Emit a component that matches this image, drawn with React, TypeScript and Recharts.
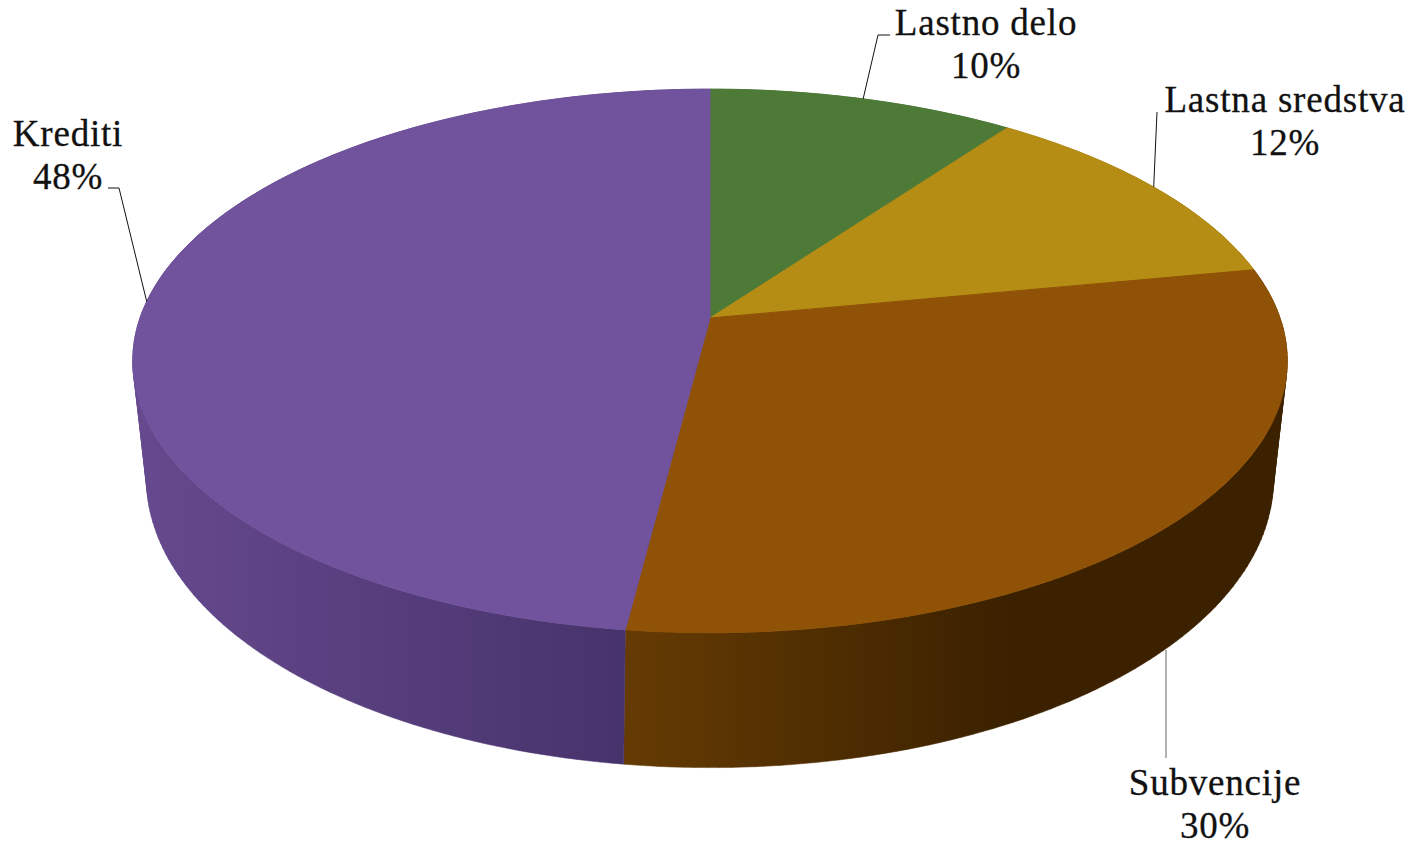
import { Pie, PieChart } from "recharts";

const names = ["Lastno delo", "Lastna sredstva", "Subvencije", "Krediti"];
const values = [10, 12, 30, 48];
const topColors = ["#4e7a38", "#b58c14", "#8f5206", "#70539c"];
const wallFrom = ["#4e7a38", "#b58c14", "#653b03", "#66498e"];
const wallTo = ["#3a5a28", "#86680f", "#3b2100", "#47336b"];

// text centre x, baselines and the leader's bends, same order as names
const labelX = [986, 1285, 1215, 68];
const labelY = [35, 112, 795, 146];
const elbows = [
  [[878, 35], [890, 35]],
  [[1157, 112]],
  [[1166, 650], [1166, 758]],
  [[119, 188], [108, 188]],
];

const data = names.map((name, i) => ({ name, value: values[i] }));

const CX = 710;
const CY = 318;
const RX = 570;
const SQUASH = 265 / 570;

// the top face and the lower rim of the disc, seen in perspective
const TOP_RING = { tilt: 0.158, scaleX: 1, scaleY: 1, drop: 0 };
const LOW_RING = { tilt: 0.2, scaleX: 552 / 570, scaleY: 276.5 / 265, drop: 104 };

type Ring = typeof TOP_RING;
type Pt = { x: number; y: number };

function project(cx: number, cy: number, r: number, deg: number, ring: Ring): Pt {
  const a = (deg * Math.PI) / 180;
  const u = Math.cos(a);
  const v = Math.sin(a);
  const w = 1 + ring.tilt * v;
  return {
    x: cx + (ring.scaleX * r * u) / w,
    y: cy + ring.drop - (ring.scaleY * r * SQUASH * v) / w,
  };
}

function arc(cx: number, cy: number, r: number, from: number, to: number, ring: Ring) {
  const steps = Math.max(2, Math.ceil(Math.abs(to - from)));
  const pts: Pt[] = [];
  for (let i = 0; i <= steps; i++) {
    pts.push(project(cx, cy, r, from + ((to - from) * i) / steps, ring));
  }
  return pts;
}

const toPath = (pts: Pt[]) =>
  "M" + pts.map((p) => `${p.x.toFixed(1)},${p.y.toFixed(1)}`).join("L") + "Z";

function area(pts: Pt[]) {
  let sum = 0;
  pts.forEach((p, i) => {
    const q = pts[(i + 1) % pts.length];
    sum += p.x * q.y - q.x * p.y;
  });
  return sum;
}

function TopSlice(props: any) {
  const { cx, cy, outerRadius, startAngle, endAngle, index } = props;
  const pts = [{ x: cx, y: cy }, ...arc(cx, cy, outerRadius, startAngle, endAngle, TOP_RING)];
  const fill = topColors[index];
  return <path d={toPath(pts)} fill={fill} stroke={fill} strokeWidth={1} />;
}

function WallSlice(props: any) {
  const { cx, cy, outerRadius, startAngle, endAngle, index } = props;
  const upper = arc(cx, cy, outerRadius, startAngle, endAngle, TOP_RING);
  const lower = arc(cx, cy, outerRadius, startAngle, endAngle, LOW_RING);
  // one quad per step, all wound the same way so the silhouette stays filled
  let d = "";
  for (let i = 0; i < upper.length - 1; i++) {
    const quad = [upper[i], upper[i + 1], lower[i + 1], lower[i]];
    d += toPath(area(quad) < 0 ? quad.reverse() : quad);
  }
  const id = `wall-${index}`;
  const purple = index === 3;
  return (
    <g>
      <defs>
        <linearGradient id={id} gradientUnits="userSpaceOnUse" x1={purple ? 133 : 625} x2={purple ? 625 : 1010} y1={0} y2={0}>
          <stop offset="0" stopColor={wallFrom[index]} />
          <stop offset="1" stopColor={wallTo[index]} />
        </linearGradient>
      </defs>
      <path d={d} fill={`url(#${id})`} stroke={`url(#${id})`} strokeWidth={0.5} />
    </g>
  );
}

function SliceLabel(props: any) {
  const { cx, cy, outerRadius, midAngle, index } = props;
  const bends = elbows[index].map(([x, y]) => ({ x, y }));
  // Subvencije leaves from the lower rim, its bends hold the whole line
  const line = index === 2 ? bends : [project(cx, cy, outerRadius, midAngle, TOP_RING), ...bends];
  return (
    <g>
      <polyline
        points={line.map((p) => `${p.x},${p.y}`).join(" ")}
        fill="none"
        stroke={index === 2 ? "#666666" : "#111111"}
        strokeWidth={1}
      />
      <text
        textAnchor="middle"
        fontFamily="Liberation Serif"
        fontSize={37}
        fill="#111111"
        stroke="#111111"
        strokeWidth={0.3}
        style={{ letterSpacing: "0.8px" }}
      >
        <tspan x={labelX[index]} y={labelY[index]}>{names[index]}</tspan>
        <tspan x={labelX[index]} y={labelY[index] + 43}>{`${values[index]}%`}</tspan>
      </text>
    </g>
  );
}

export default function App() {
  return (
    <div style={{ position: "absolute", left: 0, top: 0, width: 1418, height: 843, background: "#ffffff" }}>
      <PieChart width={1418} height={843} margin={{ top: 0, right: 0, bottom: 0, left: 0 }}>
        <Pie
          data={data}
          dataKey="value"
          nameKey="name"
          cx={CX}
          cy={CY}
          outerRadius={RX}
          startAngle={90}
          endAngle={-270}
          stroke="none"
          shape={WallSlice}
          isAnimationActive={false}
        />
        <Pie
          data={data}
          dataKey="value"
          nameKey="name"
          cx={CX}
          cy={CY}
          outerRadius={RX}
          startAngle={90}
          endAngle={-270}
          stroke="none"
          shape={TopSlice}
          label={SliceLabel}
          labelLine={false}
          isAnimationActive={false}
        />
      </PieChart>
    </div>
  );
}
